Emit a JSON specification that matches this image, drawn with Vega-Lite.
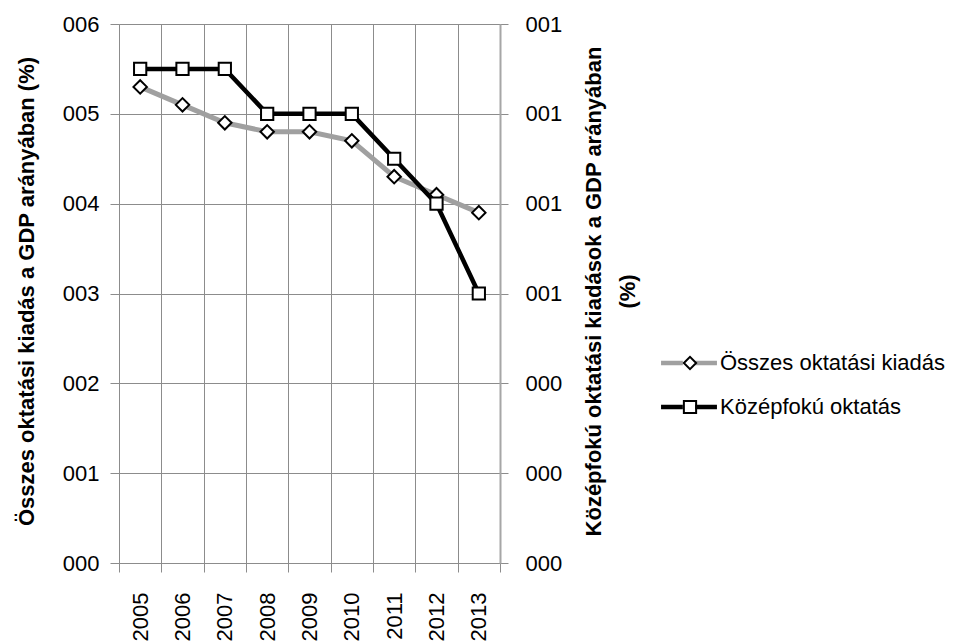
{
  "$schema": "https://vega.github.io/schema/vega-lite/v6.json",
  "width": 381,
  "height": 539,
  "autosize": "none",
  "padding": {"left": 119, "top": 24, "right": 456, "bottom": 80},
  "background": "white",
  "config": {
    "font": "Liberation Sans",
    "view": {"stroke": null},
    "axis": {"labelColor": "#000000", "titleColor": "#000000", "labelFontSize": 22, "titleFontSize": 22, "titleFontWeight": "bold"}
  },
  "data": {
    "values": [
      {"year": 2005, "series": "Összes oktatási kiadás", "value": 5.3},
      {"year": 2006, "series": "Összes oktatási kiadás", "value": 5.1},
      {"year": 2007, "series": "Összes oktatási kiadás", "value": 4.9},
      {"year": 2008, "series": "Összes oktatási kiadás", "value": 4.8},
      {"year": 2009, "series": "Összes oktatási kiadás", "value": 4.8},
      {"year": 2010, "series": "Összes oktatási kiadás", "value": 4.7},
      {"year": 2011, "series": "Összes oktatási kiadás", "value": 4.3},
      {"year": 2012, "series": "Összes oktatási kiadás", "value": 4.1},
      {"year": 2013, "series": "Összes oktatási kiadás", "value": 3.9},
      {"year": 2005, "series": "Középfokú oktatás", "value": 1.1},
      {"year": 2006, "series": "Középfokú oktatás", "value": 1.1},
      {"year": 2007, "series": "Középfokú oktatás", "value": 1.1},
      {"year": 2008, "series": "Középfokú oktatás", "value": 1.0},
      {"year": 2009, "series": "Középfokú oktatás", "value": 1.0},
      {"year": 2010, "series": "Középfokú oktatás", "value": 1.0},
      {"year": 2011, "series": "Középfokú oktatás", "value": 0.9},
      {"year": 2012, "series": "Középfokú oktatás", "value": 0.8},
      {"year": 2013, "series": "Középfokú oktatás", "value": 0.6}
    ]
  },
  "encoding": {
    "x": {
      "field": "year",
      "type": "quantitative",
      "scale": {"domain": [2004.5, 2013.5], "nice": false, "zero": false},
      "axis": {
        "title": null,
        "values": [2004.5, 2005.5, 2006.5, 2007.5, 2008.5, 2009.5, 2010.5, 2011.5, 2012.5, 2013.5],
        "labelExpr": "datum.value > 2013 ? '' : format(datum.value + 0.5, 'd')",
        "labelOffset": 21.17,
        "labelAngle": 270,
        "labelAlign": "right",
        "labelBaseline": "middle",
        "labelPadding": 20,
        "labelFlush": false,
        "labelOverlap": false,
        "labelBound": false,
        "grid": true,
        "gridColor": "#8c8c8c",
        "gridWidth": 1,
        "domainColor": "#8c8c8c",
        "tickColor": "#8c8c8c",
        "tickSize": 9
      }
    }
  },
  "layer": [
    {
      "transform": [{"filter": "datum.series === 'Összes oktatási kiadás'"}],
      "encoding": {
        "y": {
          "field": "value",
          "type": "quantitative",
          "scale": {"domain": [0, 6], "nice": false},
          "axis": {
            "orient": "left",
            "values": [0, 1, 2, 3, 4, 5, 6],
            "format": "03d",
            "grid": true,
            "gridColor": "#8c8c8c",
            "domainColor": "#8c8c8c",
            "tickColor": "#8c8c8c",
            "tickSize": 9,
            "labelPadding": 11,
            "title": "Összes oktatási kiadás a GDP arányában (%)",
            "titleAngle": 270,
            "titleAlign": "center",
            "titleBaseline": "alphabetic",
            "titleX": -86,
            "titleY": 267
          }
        }
      },
      "layer": [
        {
          "mark": {"type": "line", "strokeWidth": 5},
          "encoding": {
            "color": {
              "field": "series",
              "type": "nominal",
              "scale": {"domain": ["Összes oktatási kiadás", "Középfokú oktatás"], "range": ["#a0a0a0", "#000000"]},
              "legend": {
                "orient": "none", "legendX": 559, "legendY": 328, "title": null,
                "symbolType": "M-4.3,0H-0.95M0.95,0H4.3", "symbolSize": 169, "symbolStrokeWidth": 4.5,
                "labelFontSize": 22, "labelColor": "#000000", "labelOffset": 20, "labelLimit": 0, "rowPadding": 22, "padding": 0
              }
            }
          }
        },
        {
          "mark": {"type": "point", "shape": "diamond", "filled": true, "color": "white", "opacity": 1, "size": 180}
        },
        {
          "mark": {"type": "point", "filled": false, "stroke": "black", "strokeWidth": 2, "opacity": 1, "size": 180},
          "encoding": {
            "shape": {
              "field": "series",
              "type": "nominal",
              "scale": {"domain": ["Középfokú oktatás", "Összes oktatási kiadás"], "range": ["square", "diamond"]},
              "legend": {
                "orient": "none", "legendX": 560, "legendY": 328, "title": null,
                "values": ["Összes oktatási kiadás", "Középfokú oktatás"],
                "symbolSize": 150, "symbolStrokeWidth": 2, "symbolStrokeColor": "black", "symbolFillColor": "white",
                "labelFontSize": 22, "labelOpacity": 0, "labelOffset": 20, "labelLimit": 0, "rowPadding": 22, "padding": 0,
                "symbolOpacity": 1
              }
            }
          }
        }
      ]
    },
    {
      "transform": [{"filter": "datum.series === 'Középfokú oktatás'"}],
      "encoding": {
        "y": {
          "field": "value",
          "type": "quantitative",
          "scale": {"domain": [0, 1.2], "nice": false},
          "axis": {
            "orient": "right",
            "values": [0, 0.2, 0.4, 0.6, 0.8, 1.0, 1.2],
            "format": "03d",
            "grid": false,
            "domainColor": "#a6a6a6",
            "domainWidth": 2,
            "tickColor": "#8c8c8c",
            "tickSize": 8,
            "labelPadding": 17,
            "title": ["Középfokú oktatási kiadások a GDP arányában", "(%)"],
            "titleAngle": 270,
            "titleAlign": "center",
            "titleBaseline": "alphabetic",
            "titleLineHeight": 34,
            "titleX": 100,
            "titleY": 267
          }
        }
      },
      "layer": [
        {
          "mark": {"type": "line", "strokeWidth": 4.5},
          "encoding": {
            "color": {"field": "series", "type": "nominal"}
          }
        },
        {
          "mark": {"type": "point", "shape": "square", "filled": true, "color": "white", "opacity": 1, "size": 150}
        },
        {
          "mark": {"type": "point", "filled": false, "stroke": "black", "strokeWidth": 2, "opacity": 1, "size": 150},
          "encoding": {
            "shape": {"field": "series", "type": "nominal"}
          }
        }
      ]
    }
  ],
  "resolve": {"scale": {"y": "independent"}}
}
